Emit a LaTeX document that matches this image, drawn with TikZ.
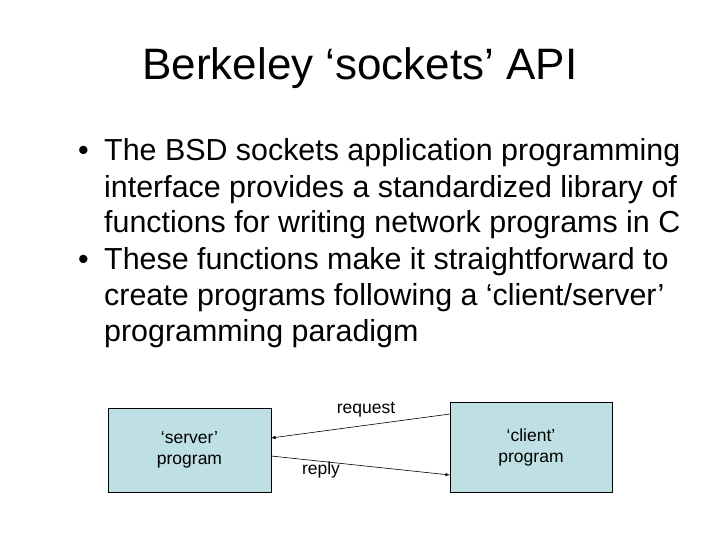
\documentclass[tikz,border=0pt]{standalone}
\usepackage{fontspec}
\setmainfont{Liberation Sans}
\begin{document}
\begin{tikzpicture}[x=1pt,y=-1pt,
 box/.style={draw=black,fill=boxblue,inner sep=0pt},
 body/.style={anchor=base west,inner sep=0pt,font=\fontsize{30.4}{36}\selectfont},
 lbl/.style={font=\fontsize{17.5}{21}\selectfont,inner sep=0pt},
 arr/.style={-latex,semithick}]
\definecolor{boxblue}{HTML}{BEDFE3}
\useasboundingbox (0,0) rectangle (720,540);
\node[font=\fontsize{44}{52}\selectfont,inner sep=0pt] (title) at (360,68) {Berkeley ‘sockets’ API};
\node[body] (b1) at (78,161) {•};
\node[body] (l1) at (104,161) {The BSD sockets application programming};
\node[body] (l2) at (104,197) {interface provides a standardized library of};
\node[body] (l3) at (104,233) {functions for writing network programs in C};
\node[body] (b2) at (78,269) {•};
\node[body] (l4) at (104,269) {These functions make it straightforward to};
\node[body] (l5) at (104,305) {create programs following a ‘client/server’};
\node[body] (l6) at (104,341) {programming paradigm};
\node[box,minimum width=163,minimum height=84,align=center,lbl] (srv) at (189.5,450) {‘server’\\program};
\node[box,minimum width=162,minimum height=90,align=center,lbl] (cli) at (531,447) {‘client’\\program};
\coordinate (rqs) at (450,414);
\coordinate (rqe) at (271,438);
\coordinate (rps) at (271,456);
\coordinate (rpe) at (450,475);
\draw[arr] (rqs) -- (rqe);
\draw[arr] (rps) -- (rpe);
\node[lbl] (req) at (366,410) {request};
\node[lbl] (rep) at (321,470) {reply};
\end{tikzpicture}
\end{document}
